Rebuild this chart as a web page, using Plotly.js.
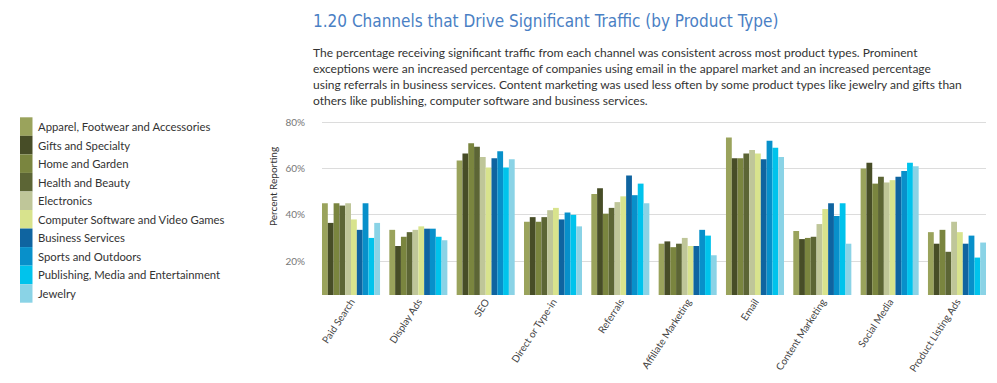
<!DOCTYPE html>
<html>
<head>
<meta charset="utf-8">
<script src="https://cdn.plot.ly/plotly-3.0.1.min.js"></script>
<style>html,body{margin:0;padding:0;background:#fff;}#chart{width:997px;height:383px;}</style>
</head>
<body>
<div id="chart"></div>
<script>
// ---- data ----
var channels = ['Paid Search','Display Ads','SEO','Direct or Type-in','Referrals','Affiliate Marketing','Email','Content Marketing','Social Media','Product Listing Ads'];
var productTypes = ['Apparel, Footwear and Accessories','Gifts and Specialty','Home and Garden','Health and Beauty','Electronics','Computer Software and Video Games','Business Services','Sports and Outdoors','Publishing, Media and Entertainment','Jewelry'];
var apparel     = [45, 33.5, 63.5, 37, 49, 27.5, 73.5, 33, 60, 32.5];
var gifts       = [36.5, 26.5, 66.5, 39, 51.5, 28.5, 64.5, 29.5, 62.5, 27.5];
var home        = [45, 30.5, 71, 37, 40.5, 26, 64.5, 30, 53.5, 33.5];
var health      = [44, 32.5, 69.5, 39, 43, 27.5, 66.5, 30.5, 56.5, 24];
var electronics = [45, 33.5, 65, 42, 45.5, 30, 68, 36, 54, 37];
var software    = [38, 35, 60.5, 43, 48, 26.5, 66.5, 42.5, 55, 32.5];
var business    = [33.5, 34, 64.5, 38, 57, 26.5, 64, 45, 56.5, 27.5];
var sports      = [45, 34, 67.5, 41, 48.5, 33.5, 72, 39.5, 59, 31];
var publishing  = [30, 30.5, 60.5, 40, 53.5, 31, 69, 45, 62.5, 21.5];
var jewelry     = [36.5, 29, 64, 35, 45, 22.5, 65, 27.5, 61, 28];
var yTickVals   = [20, 40, 60, 80];
var yTickText   = ['20%', '40%', '60%', '80%'];
var titleText = '1.20 Channels that Drive Significant Traffic (by Product Type)';
var paragraph = [
  'The percentage receiving significant traffic from each channel was consistent across most product types. Prominent',
  'exceptions were an increased percentage of companies using email in the apparel market and an increased percentage',
  'using referrals in business services. Content marketing was used less often by some product types like jewelry and gifts than',
  'others like publishing, computer software and business services.'
];
var colors = ['#9AA35C','#474D27','#7A853F','#5C6535','#BFC699','#D8E38D','#0F64A0','#0890CA','#00C3EC','#8AD3E6'];
var series = [apparel, gifts, home, health, electronics, software, business, sports, publishing, jewelry];

// ---- layout geometry ----
var W = 997, H = 383;
var mL = 322, mR = 11, mT = 121, mB = 88;
var pw = W - mL - mR, ph = H - mT - mB;
function px(x){ return (x - mL) / pw; }
function py(y){ return (H - mB - y) / ph; }

var FONT = 'Lato, "Open Sans", sans-serif';

var traces = series.map(function(vals, i){
  return {
    type: 'bar', x: channels, y: vals, name: productTypes[i],
    marker: {color: colors[i], line: {width: 0}},
    showlegend: false, hoverinfo: 'x+y+name'
  };
});

var annotations = [];
var shapes = [];
annotations.push({xref:'paper', yref:'paper', x:px(311), y:py(21), xanchor:'left', yanchor:'middle',
  text:titleText, showarrow:false, font:{family:'"DejaVu Sans Condensed", Lato, sans-serif', size:17, color:'#4A80C4'}});
paragraph.forEach(function(line, i){
  annotations.push({xref:'paper', yref:'paper', x:px(311), y:py(52 + 16*i), xanchor:'left', yanchor:'middle',
    text:line, showarrow:false, font:{family:FONT, size:12, color:'#333333'}});
});
annotations.push({xref:'paper', yref:'paper', x:px(273), y:py(187), xanchor:'center', yanchor:'middle',
  text:'Percent Reporting', textangle:-90, showarrow:false, font:{family:FONT, size:10, color:'#333333'}});

var legTop = 117.3, rowH = 18.54;
productTypes.forEach(function(name, i){
  var y0 = legTop + rowH*i, y1 = y0 + rowH;
  shapes.push({type:'rect', xref:'paper', yref:'paper', x0:px(20), x1:px(32.5), y0:py(y1), y1:py(y0),
    fillcolor:colors[i], line:{width:0}, layer:'above'});
  annotations.push({xref:'paper', yref:'paper', x:px(35.5), y:py((y0+y1)/2), xanchor:'left', yanchor:'middle',
    text:name, showarrow:false, font:{family:FONT, size:11.3, color:'#333333'}});
});

var layout = {
  width: W, height: H,
  margin: {l: mL, r: mR, t: mT, b: mB, pad: 0},
  paper_bgcolor: '#ffffff', plot_bgcolor: '#ffffff',
  barmode: 'group', bargap: 0.138, bargroupgap: 0,
  xaxis: {
    type: 'category', range: [-0.431, 9.431], fixedrange: true,
    tickangle: -57, tickfont: {family: FONT, size: 10, color: '#444444'},
    ticks: '', ticklen: 0, ticklabelstandoff: -2,
    showgrid: false, showline: false, zeroline: false, automargin: false
  },
  yaxis: {
    range: [5.3, 80.6], tickvals: yTickVals, ticktext: yTickText, fixedrange: true,
    tickfont: {family: FONT, size: 10, color: '#777777'},
    ticks: 'outside', ticklen: 14, tickcolor: 'rgba(0,0,0,0)',
    showgrid: true, gridcolor: '#DCDCDC', gridwidth: 1,
    showline: false, zeroline: false, automargin: false
  },
  annotations: annotations,
  shapes: shapes,
  showlegend: false
};

Plotly.newPlot('chart', traces, layout, {displayModeBar: false, staticPlot: true});
</script>
</body>
</html>
